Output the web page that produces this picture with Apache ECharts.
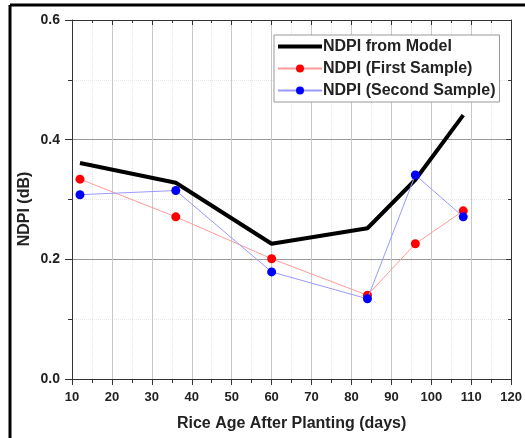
<!DOCTYPE html>
<html><head><meta charset="utf-8">
<script src="https://cdn.jsdelivr.net/npm/echarts@6/dist/echarts.min.js"></script>
<style>html,body{margin:0;padding:0;background:#fff}#c{width:525px;height:438px}</style>
</head><body><div id="c"></div>
<script>
var modelX = [12, 36, 60, 84, 96, 108];
var modelY = [0.361, 0.328, 0.226, 0.252, 0.333, 0.441];
var firstX = [12, 36, 60, 84, 96, 108];
var firstY = [0.334, 0.271, 0.201, 0.140, 0.226, 0.281];
var secondX = [12, 36, 60, 84, 96, 108];
var secondY = [0.308, 0.315, 0.179, 0.134, 0.341, 0.271];
var seriesNames = ['NDPI from Model', 'NDPI (First Sample)', 'NDPI (Second Sample)'];
var xTitle = 'Rice Age After Planting (days)';
var yTitle = 'NDPI (dB)';

function pairs(xs, ys){ return xs.map(function(x,i){ return [x, ys[i]]; }); }

var chart = echarts.init(document.getElementById('c'));
var font = 'Liberation Sans, Arial, sans-serif';
chart.setOption({
  animation: false,
  backgroundColor: '#fff',
  grid: {left: 72, top: 20, width: 442, height: 359, containLabel: false},
  graphic: [
    {type: 'line', shape: {x1: 10, y1: 5, x2: 525, y2: 5}, style: {stroke: '#000', lineWidth: 3}, z: 100},
    {type: 'line', shape: {x1: 10, y1: 5, x2: 10, y2: 438}, style: {stroke: '#000', lineWidth: 3}, z: 100},
    {type: 'text', x: 25, y: 209, rotation: Math.PI / 2,
      style: {text: yTitle, font: 'bold 16px ' + font, fill: '#222', align: 'center', verticalAlign: 'middle'}, z: 100}
  ],
  legend: {
    left: 274, top: 35, orient: 'vertical',
    padding: [3, 4, 3, 2],
    itemGap: 5, itemWidth: 44, itemHeight: 10,
    backgroundColor: '#fff', borderColor: '#999', borderWidth: 1,
    textStyle: {fontFamily: font, fontWeight: 'bold', fontSize: 16, lineHeight: 17, color: '#222', padding: [0,0,0,-4]},
    data: [
      {name: seriesNames[0], itemStyle: {opacity: 0}, lineStyle: {width: 4}},
      {name: seriesNames[1]},
      {name: seriesNames[2]}
    ]
  },
  xAxis: [{
    type: 'value', min: 10, max: 120, interval: 10,
    name: xTitle, nameLocation: 'middle', nameGap: 37,
    nameTextStyle: {fontFamily: font, fontWeight: 'bold', fontSize: 16, color: '#222'},
    axisLine: {show: true, onZero: false, lineStyle: {color: '#333', width: 1}},
    axisTick: {show: true, inside: false, length: 6, lineStyle: {color: '#333'}},
    minorTick: {show: true, splitNumber: 2, length: 4, lineStyle: {color: '#333'}},
    axisLabel: {fontFamily: font, fontWeight: 'bold', fontSize: 13, color: '#222', margin: 12},
    splitLine: {show: true, lineStyle: {color: '#c8c8c8', width: 1}},
    minorSplitLine: {show: true, lineStyle: {color: '#e6e6e6', type: 'dotted', width: 1}}
  }, {
    type: 'value', position: 'top', min: 10, max: 120, interval: 10,
    axisLine: {show: true, onZero: false, lineStyle: {color: '#333', width: 1}},
    axisTick: {show: true, inside: true, length: 5, lineStyle: {color: '#333'}},
    minorTick: {show: true, splitNumber: 2, length: 3, lineStyle: {color: '#333'}},
    axisLabel: {show: false}, splitLine: {show: false}
  }],
  yAxis: [{
    type: 'value', min: 0, max: 0.6, interval: 0.2,
    axisLine: {show: true, onZero: false, lineStyle: {color: '#333', width: 1}},
    axisTick: {show: true, inside: false, length: 7, lineStyle: {color: '#333'}},
    minorTick: {show: true, splitNumber: 2, length: 4, lineStyle: {color: '#333'}},
    axisLabel: {fontFamily: font, fontWeight: 'bold', fontSize: 14, color: '#222', margin: 12,
      formatter: function(v){ return v.toFixed(1); }},
    splitLine: {show: true, lineStyle: {color: '#999', width: 1}},
    minorSplitLine: {show: true, lineStyle: {color: '#e6e6e6', type: 'dotted', width: 1}}
  }, {
    type: 'value', position: 'right', min: 0, max: 0.6, interval: 0.2,
    axisLine: {show: true, onZero: false, lineStyle: {color: '#333', width: 1}},
    axisTick: {show: true, inside: true, length: 5, lineStyle: {color: '#333'}},
    minorTick: {show: true, splitNumber: 2, length: 3, lineStyle: {color: '#333'}},
    axisLabel: {show: false}, splitLine: {show: false}
  }],
  series: [{
    name: seriesNames[0], type: 'line', data: pairs(modelX, modelY),
    showSymbol: false, symbol: 'none',
    lineStyle: {color: '#000', width: 4}, itemStyle: {color: '#000'}, z: 3
  }, {
    name: seriesNames[1], type: 'line', data: pairs(firstX, firstY),
    symbol: 'circle', symbolSize: 9,
    lineStyle: {color: '#ff9a9a', width: 1}, itemStyle: {color: '#ff0000'}, z: 4
  }, {
    name: seriesNames[2], type: 'line', data: pairs(secondX, secondY),
    symbol: 'circle', symbolSize: 9,
    lineStyle: {color: '#9a9aff', width: 1}, itemStyle: {color: '#0000ff'}, z: 5
  }]
});
</script></body></html>
